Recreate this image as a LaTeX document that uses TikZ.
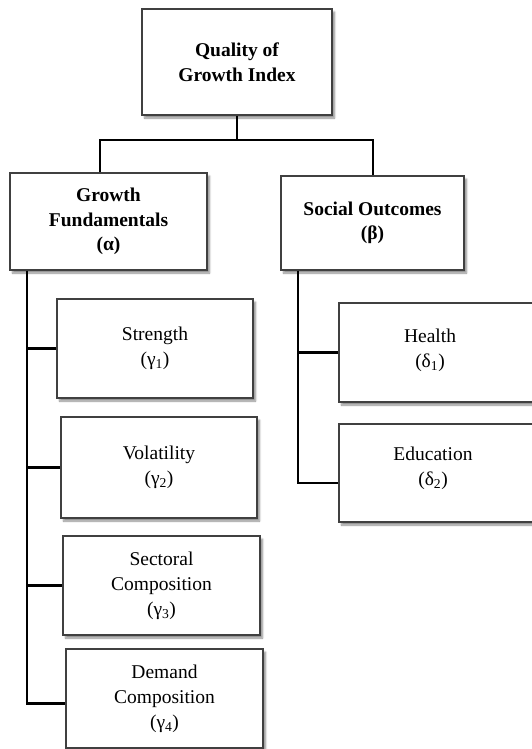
\documentclass[tikz,border=0pt]{standalone}
\usepackage{fontspec}
\setmainfont{Liberation Serif}
\usetikzlibrary{shadows.blur}

\begin{document}
\begin{tikzpicture}[x=1pt,y=-1pt,
  box/.style={draw=black!75,line width=1.2pt,fill=white,align=center,inner sep=2pt,
    font=\fontsize{19.5}{25}\selectfont,
    blur shadow={shadow xshift=2.5pt,shadow yshift=-3pt,shadow blur steps=6,shadow opacity=45}},
  head/.style={box,font=\fontsize{19.5}{24.5}\selectfont\bfseries},
  txt/.style={align=center,inner sep=0pt,font=\fontsize{19.5}{25}\selectfont},
  conn/.style={line width=2.2pt,black}]
\useasboundingbox (0,0) rectangle (532,749);
\clip (0,0) rectangle (532,749);
% top level
\node[head,minimum width=190,minimum height=106] (qgi) at (237,62) {Quality of\\Growth Index};
\coordinate (bar) at (237,140);
% the two sub-indices
\node[head,minimum width=197,minimum height=97] (gf) at (108.5,221.5) {Growth\\Fundamentals\\(α)};
\node[head,minimum width=183,minimum height=94] (so) at (372.5,223) {Social Outcomes\\(β)};
\draw[conn] (qgi.south) -- (bar);
\draw[conn] (100,0 |- gf.north) |- (bar) -| (373,0 |- so.north);
% growth fundamentals components
\node[box,minimum width=196,minimum height=99] (str) at (155,348.5) {Strength\\(γ\textsubscript{1})};
\node[box,minimum width=196,minimum height=101] (vol) at (159,467.5) {Volatility\\(γ\textsubscript{2})};
\node[box,minimum width=197,minimum height=99] (sec) at (161.5,585.5) {Sectoral\\Composition\\(γ\textsubscript{3})};
\node[box,minimum width=197,minimum height=99] (dem) at (164.5,698.5) {Demand\\Composition\\(γ\textsubscript{4})};
\draw[conn] (27,0 |- gf.south) |- ([yshift=-5pt]dem.west);
\draw[conn] (27,0 |- str.west) -- (str.west);
\draw[conn] (27,0 |- vol.west) -- (vol.west);
\draw[conn] (27,0 |- sec.west) -- (sec.west);
% social outcomes components
\node[box,minimum width=230,minimum height=99] (hea) at (454,352.5) {};
\node[txt] (heatxt) at (430,350) {Health\\(δ\textsubscript{1})};
\node[box,minimum width=230,minimum height=98] (edu) at (454,473) {};
\node[txt] (edutxt) at (433,468) {Education\\(δ\textsubscript{2})};
\draw[conn] (298,0 |- so.south) |- ([yshift=-10pt]edu.west);
\draw[conn] (298,0 |- hea.west) -- (hea.west);
\end{tikzpicture}
\end{document}
